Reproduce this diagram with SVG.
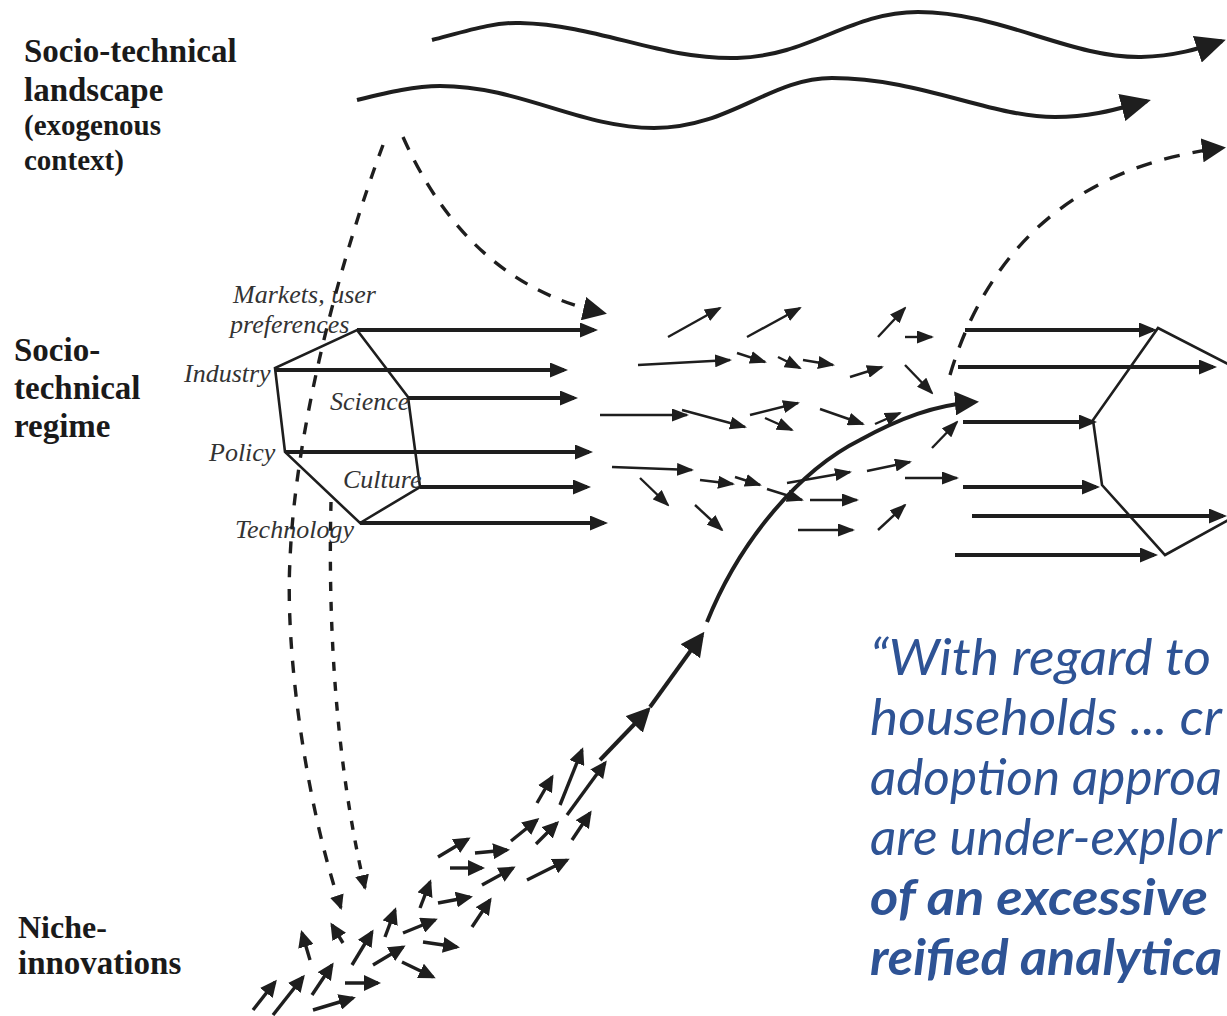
<svg xmlns="http://www.w3.org/2000/svg" width="1227" height="1016" viewBox="0 0 1227 1016">
<style>
.lbl{font-family:"Liberation Serif","Times New Roman",serif;font-weight:bold;fill:#1a1a1a}
.it{font-family:"Liberation Serif","Times New Roman",serif;font-style:italic;font-size:26px;fill:#333}
.q{font-family:Lato,"Open Sans",sans-serif;font-style:italic;font-size:50px;fill:#2E5395;font-weight:400}
.qb{font-weight:bold}
.ln{stroke:#1e1e1e;fill:none;stroke-linecap:butt}
.hex{stroke:#1e1e1e;fill:none;stroke-width:2.6;stroke-linejoin:miter}
.ha{stroke:#1e1e1e;stroke-width:4;marker-end:url(#m-md)}
.sa{stroke:#1e1e1e;stroke-width:2.4;marker-end:url(#m-sm)}
.na{stroke:#1e1e1e;stroke-width:3.4;marker-end:url(#m-nc)}
.ca{stroke:#1e1e1e;stroke-width:4;marker-end:url(#m-lg)}
.dsh{stroke:#1e1e1e;fill:none;stroke-width:3.4}
</style>
<defs>
<marker id="m-xl" viewBox="0 0 30 28" markerWidth="30" markerHeight="28" refX="26" refY="14" orient="auto" markerUnits="userSpaceOnUse"><path d="M0,0 L30,14 L0,28 z" fill="#1e1e1e"/></marker>
<marker id="m-lg" viewBox="0 0 24 24" markerWidth="24" markerHeight="24" refX="20" refY="12" orient="auto" markerUnits="userSpaceOnUse"><path d="M0,0 L24,12 L0,24 z" fill="#1e1e1e"/></marker>
<marker id="m-md" viewBox="0 0 18 15" markerWidth="18" markerHeight="15" refX="14" refY="7.5" orient="auto" markerUnits="userSpaceOnUse"><path d="M0,0 L18,7.5 L0,15 z" fill="#1e1e1e"/></marker>
<marker id="m-sm" viewBox="0 0 17 13" markerWidth="17" markerHeight="13" refX="15" refY="6.5" orient="auto" markerUnits="userSpaceOnUse"><path d="M0,0 L17,6.5 L0,13 z" fill="#1e1e1e"/></marker>
<marker id="m-nc" viewBox="0 0 17 16" markerWidth="17" markerHeight="16" refX="14" refY="8" orient="auto" markerUnits="userSpaceOnUse"><path d="M0,0 L17,8 L0,16 z" fill="#1e1e1e"/></marker>
<marker id="m-dn" viewBox="0 0 15 14" markerWidth="15" markerHeight="14" refX="13" refY="7" orient="auto" markerUnits="userSpaceOnUse"><path d="M0,0 L15,7 L0,14 z" fill="#1e1e1e"/></marker>
</defs>
<rect width="1227" height="1016" fill="#ffffff"/>

<g id="landscape-label">
<text class="lbl" x="24" y="62" font-size="33">Socio-technical</text>
<text class="lbl" x="24" y="101" font-size="33">landscape</text>
<text class="lbl" x="24" y="135" font-size="29">(exogenous</text>
<text class="lbl" x="24" y="170" font-size="29">context)</text>
</g>

<g id="regime-label">
<text class="lbl" x="14" y="361" font-size="33">Socio-</text>
<text class="lbl" x="14" y="399" font-size="33">technical</text>
<text class="lbl" x="14" y="437" font-size="33">regime</text>
</g>

<g id="niche-label">
<text class="lbl" x="18" y="938" font-size="32">Niche-</text>
<text class="lbl" x="18" y="974" font-size="33">innovations</text>
</g>

<g id="regime-left">
<polygon class="hex" points="357,330 408,397 420,487 360,523 285,452 275,368"/>
<text class="it" x="233" y="303">Markets, user</text>
<text class="it" x="230" y="333">preferences</text>
<text class="it" x="184" y="382">Industry</text>
<text class="it" x="330" y="410">Science</text>
<text class="it" x="209" y="461">Policy</text>
<text class="it" x="343" y="488">Culture</text>
<text class="it" x="235" y="538">Technology</text>
</g>

<g id="regime-right">
<polyline class="hex" points="1230,365 1158,328 1093,420 1102,485 1165,555 1230,519"/>
</g>

<g id="connectors">
<!-- landscape waves -->
<path class="ln" stroke-width="4" marker-end="url(#m-xl)" d="M432,40 C470,30 495,22 520,23 C600,25 660,60 737,58 C810,56 850,12 918,12 C1000,12 1070,58 1141,57 C1175,56 1198,49 1222,41"/>
<path class="ln" stroke-width="4" marker-end="url(#m-xl)" d="M357,100 C390,92 415,86 440,86 C520,86 580,128 654,128 C730,128 770,78 832,78 C920,78 990,117 1055,117 C1095,117 1120,108 1147,101"/>
<!-- dashed landscape influences -->
<path class="dsh" stroke-width="3.8" stroke-dasharray="14,12" marker-end="url(#m-lg)" d="M403,137 C440,220 500,290 603,313"/>
<path class="dsh" stroke-dasharray="12,12" marker-end="url(#m-dn)" d="M383,145 C340,260 295,430 290,560 C285,650 305,800 341,908"/>
<path class="dsh" stroke-dasharray="9,11" marker-end="url(#m-dn)" d="M331,502 C328,620 335,760 365,888"/>
<path class="dsh" stroke-width="4.2" stroke-dasharray="16,13" marker-end="url(#m-lg)" d="M950,375 C975,290 1040,170 1222,148"/>
<!-- left regime arrows -->
<line class="ha" x1="357" y1="330" x2="594" y2="330"/>
<line class="ha" x1="275" y1="370" x2="564" y2="370"/>
<line class="ha" x1="408" y1="398" x2="574" y2="398"/>
<line class="ha" x1="285" y1="452" x2="589" y2="452"/>
<line class="ha" x1="420" y1="487" x2="587" y2="487"/>
<line class="ha" x1="360" y1="523" x2="604" y2="523"/>
<!-- right regime arrows -->
<line class="ha" x1="965" y1="330" x2="1153" y2="330"/>
<line class="ha" x1="958" y1="367" x2="1213" y2="367"/>
<line class="ha" x1="963" y1="422" x2="1093" y2="422"/>
<line class="ha" x1="963" y1="487" x2="1096" y2="487"/>
<line class="ha" x1="972" y1="516" x2="1223" y2="516" stroke-width="2.6"/>
<line class="ha" x1="955" y1="555" x2="1154" y2="555"/>
<!-- middle turbulent arrows -->
<line class="sa" x1="668" y1="337" x2="720" y2="308"/>
<line class="sa" x1="747" y1="337" x2="800" y2="308"/>
<line class="sa" x1="878" y1="337" x2="905" y2="308"/>
<line class="sa" x1="905" y1="337" x2="932" y2="337"/>
<line class="sa" x1="638" y1="365" x2="730" y2="360"/>
<line class="sa" x1="737" y1="353" x2="765" y2="362"/>
<line class="sa" x1="778" y1="357" x2="800" y2="368"/>
<line class="sa" x1="803" y1="360" x2="833" y2="365"/>
<line class="sa" x1="850" y1="377" x2="882" y2="367"/>
<line class="sa" x1="905" y1="365" x2="932" y2="393"/>
<line class="sa" x1="600" y1="415" x2="687" y2="415" stroke-width="3"/>
<line class="sa" x1="682" y1="410" x2="745" y2="427"/>
<line class="sa" x1="750" y1="415" x2="798" y2="403"/>
<line class="sa" x1="765" y1="418" x2="792" y2="430"/>
<line class="sa" x1="820" y1="409" x2="863" y2="424"/>
<line class="sa" x1="875" y1="424" x2="900" y2="413"/>
<line class="sa" x1="932" y1="448" x2="957" y2="422"/>
<line class="sa" x1="612" y1="467" x2="692" y2="470"/>
<line class="sa" x1="640" y1="478" x2="668" y2="505"/>
<line class="sa" x1="700" y1="480" x2="733" y2="484"/>
<line class="sa" x1="735" y1="477" x2="760" y2="485"/>
<line class="sa" x1="767" y1="489" x2="802" y2="500"/>
<line class="sa" x1="787" y1="483" x2="850" y2="472"/>
<line class="sa" x1="810" y1="500" x2="857" y2="500"/>
<line class="sa" x1="867" y1="471" x2="910" y2="462"/>
<line class="sa" x1="905" y1="478" x2="957" y2="478"/>
<line class="sa" x1="695" y1="505" x2="722" y2="530"/>
<line class="sa" x1="798" y1="530" x2="853" y2="530"/>
<line class="sa" x1="878" y1="530" x2="905" y2="505"/>
<!-- niche breakthrough curve -->
<path class="ln" stroke-width="4" marker-end="url(#m-lg)" d="M707,622 C740,540 800,470 860,440 C900,418 935,405 975,402"/>
<line class="ca" x1="650" y1="707" x2="702" y2="635"/>
<line class="ca" x1="600" y1="760" x2="648" y2="710"/>
<!-- niche arrows -->
<line class="na" x1="537" y1="803" x2="552" y2="777"/>
<line class="na" x1="560" y1="805" x2="582" y2="750"/>
<line class="na" x1="567" y1="815" x2="605" y2="763"/>
<line class="na" x1="511" y1="841" x2="537" y2="820"/>
<line class="na" x1="536" y1="844" x2="557" y2="823"/>
<line class="na" x1="572" y1="840" x2="590" y2="813"/>
<line class="na" x1="438" y1="857" x2="468" y2="839"/>
<line class="na" x1="475" y1="853" x2="507" y2="850"/>
<line class="na" x1="450" y1="868" x2="482" y2="868"/>
<line class="na" x1="482" y1="885" x2="513" y2="868"/>
<line class="na" x1="527" y1="880" x2="567" y2="860"/>
<line class="na" x1="420" y1="908" x2="430" y2="882"/>
<line class="na" x1="438" y1="903" x2="470" y2="897"/>
<line class="na" x1="472" y1="927" x2="490" y2="900"/>
<line class="na" x1="385" y1="937" x2="395" y2="910"/>
<line class="na" x1="403" y1="933" x2="435" y2="920"/>
<line class="na" x1="423" y1="942" x2="457" y2="947"/>
<line class="na" x1="352" y1="965" x2="372" y2="932"/>
<line class="na" x1="373" y1="965" x2="403" y2="947"/>
<line class="na" x1="402" y1="962" x2="433" y2="977"/>
<line class="na" x1="343" y1="943" x2="332" y2="925"/>
<line class="na" x1="310" y1="960" x2="302" y2="933"/>
<line class="na" x1="253" y1="1010" x2="275" y2="982"/>
<line class="na" x1="273" y1="1015" x2="303" y2="977"/>
<line class="na" x1="312" y1="995" x2="332" y2="965"/>
<line class="na" x1="345" y1="983" x2="378" y2="983"/>
<line class="na" x1="313" y1="1010" x2="353" y2="998"/>
</g>

<g id="quote">
<text class="q" x="870" y="675" textLength="341" lengthAdjust="spacingAndGlyphs">“With regard to</text>
<text class="q" x="870" y="735" textLength="352" lengthAdjust="spacingAndGlyphs">households ... cr</text>
<text class="q" x="870" y="795" textLength="352" lengthAdjust="spacingAndGlyphs">adoption approa</text>
<text class="q" x="870" y="855" textLength="352" lengthAdjust="spacingAndGlyphs">are under-explor</text>
<text class="q qb" x="870" y="915" textLength="338" lengthAdjust="spacingAndGlyphs">of an excessive</text>
<text class="q qb" x="870" y="975" textLength="352" lengthAdjust="spacingAndGlyphs">reified analytica</text>
</g>
</svg>
